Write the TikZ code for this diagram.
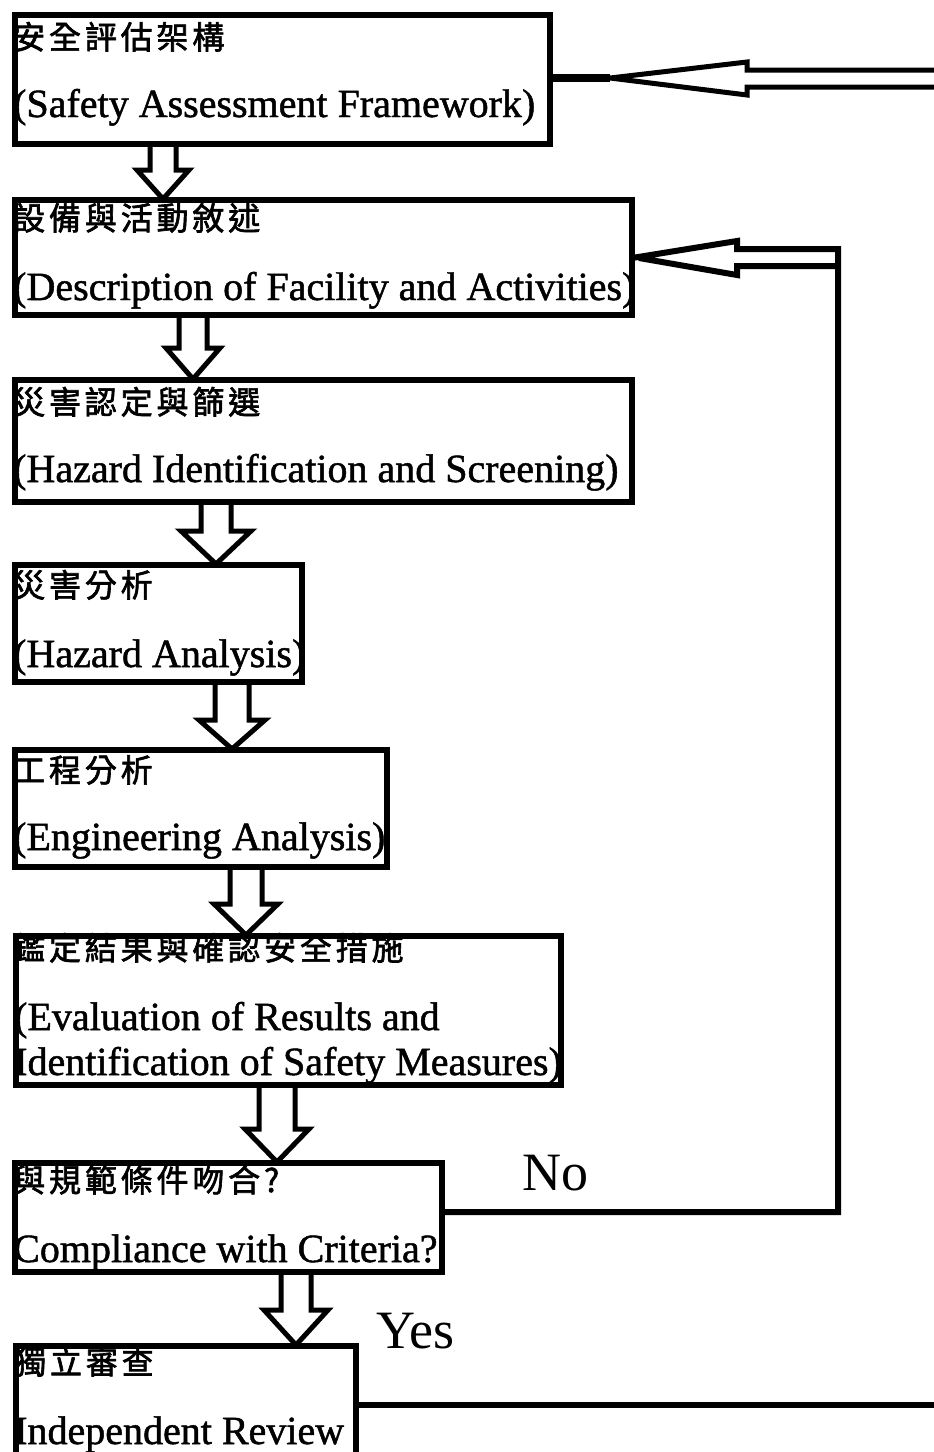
\documentclass[tikz,border=0pt]{standalone}
\usepackage{fontspec}
\setmainfont{Liberation Serif}[RawFeature={embolden=1.2}]
\newfontfamily\cjk[RawFeature={embolden=2},LetterSpace=12]{Noto Sans CJK TC}
\newfontfamily\plainserif{Liberation Serif}
\usetikzlibrary{calc}
\tikzset{
  box/.style={draw, line width=6pt, inner sep=0pt, outer sep=0pt, anchor=north west},
  cn/.style={anchor=base west, inner sep=0pt, font=\cjk\fontsize{32}{36}\selectfont},
  en/.style={anchor=base west, inner sep=0pt, font=\fontsize{40}{44}\selectfont},
  big/.style={anchor=base west, inner sep=0pt, font=\plainserif\fontsize{54}{58}\selectfont},
  blk/.style={draw, line width=5pt, line join=miter},
  conn/.style={draw, line width=6pt}
}
\newcommand\blockdown[6]{%
  \draw[blk] let \p1=(#1.south), \p2=(#2.north) in
    ({(#3-#4)*1pt},\y1) -- ({(#3-#4)*1pt},{\y2+#6pt}) -- ({(#3-#5)*1pt},{\y2+#6pt})
    -- ({#3*1pt},{\y2+1pt}) -- ({(#3+#5)*1pt},{\y2+#6pt}) -- ({(#3+#4)*1pt},{\y2+#6pt})
    -- ({(#3+#4)*1pt},\y1);}
\begin{document}
\begin{tikzpicture}[x=1pt,y=-1pt]
\useasboundingbox[fill=white] (0,0) rectangle (934,1452);
% texts
\node[cn] (t1a) at (13,49) {安全評估架構};
\node[en] (t1b) at (13,117) {(Safety Assessment Framework)};
\node[cn] (t2a) at (13,230) {設備與活動敘述};
\node[en] (t2b) at (13,300) {(Description of Facility and Activities)};
\node[cn] (t3a) at (13,414) {災害認定與篩選};
\node[en] (t3b) at (13,482) {(Hazard Identification and Screening)};
\node[cn] (t4a) at (13,597) {災害分析};
\node[en] (t4b) at (13,667) {(Hazard Analysis)};
\node[cn] (t5a) at (13,782) {工程分析};
\node[en] (t5b) at (13,850) {(Engineering Analysis)};
\node[cn] (t6a) at (13,960) {鑑定結果與確認安全措施};
\node[en] (t6b) at (14,1030) {(Evaluation of Results and};
\node[en] (t6c) at (14,1075) {Identification of Safety Measures)};
\node[cn] (t7a) at (13,1192) {與規範條件吻合?};
\node[en] (t7b) at (13,1262) {Compliance with Criteria?};
\node[cn] (t8a) at (14,1374) {獨立審查};
\node[en] (t8b) at (14,1444) {Independent Review};
\node[big] (no) at (522,1190) {No};
\node[big] (yes) at (376,1348) {Yes};
% boxes
\node[box, minimum width=535pt, minimum height=129pt] (b1) at (15,15) {};
\node[box, minimum width=617pt, minimum height=115pt] (b2) at (15,200) {};
\node[box, minimum width=617pt, minimum height=122pt] (b3) at (15,380) {};
\node[box, minimum width=287pt, minimum height=117pt] (b4) at (15,565) {};
\node[box, minimum width=372pt, minimum height=117pt] (b5) at (15,750) {};
\node[box, minimum width=545pt, minimum height=149pt] (b6) at (16,936) {};
\node[box, minimum width=427pt, minimum height=109pt] (b7) at (15,1163) {};
\node[box, minimum width=340pt, minimum height=130pt] (b8) at (16,1346) {};
% block arrows between boxes
\blockdown{b1}{b2}{163}{13}{26}{30}
\blockdown{b2}{b3}{193}{14}{27}{32}
\blockdown{b3}{b4}{216}{15}{35}{34}
\blockdown{b4}{b5}{232}{17}{33}{30}
\blockdown{b5}{b6}{246}{16}{32}{32}
\blockdown{b6}{b7}{277}{18}{32}{34}
\blockdown{b7}{b8}{296}{15}{32}{36}
% feedback loop: No
\coordinate (nr) at (838,1212);
\coordinate (nt) at (838,249);
\draw[blk, line width=6pt] (b7.east |- nr) -- (nr) -- (nt) -- (737,249) -- (737,241)
  -- (b2.east |- 0,258) ++(7,0) -- (737,275) -- (737,266) -- (838,266);
% top incoming arrow
\coordinate (tin1) at (940,70);
\coordinate (tin2) at (940,87);
\coordinate (ttip) at (610,78);
\draw[blk] (tin1) -- (747,70) -- (747,62) -- (ttip) -- (747,95) -- (747,87) -- (tin2);
\draw[line width=8pt] (b1.east |- ttip) -- (ttip);
% bottom outgoing line
\coordinate (bout) at (940,1405);
\draw[conn] (b8.east |- bout) -- (bout);
\end{tikzpicture}
\end{document}
